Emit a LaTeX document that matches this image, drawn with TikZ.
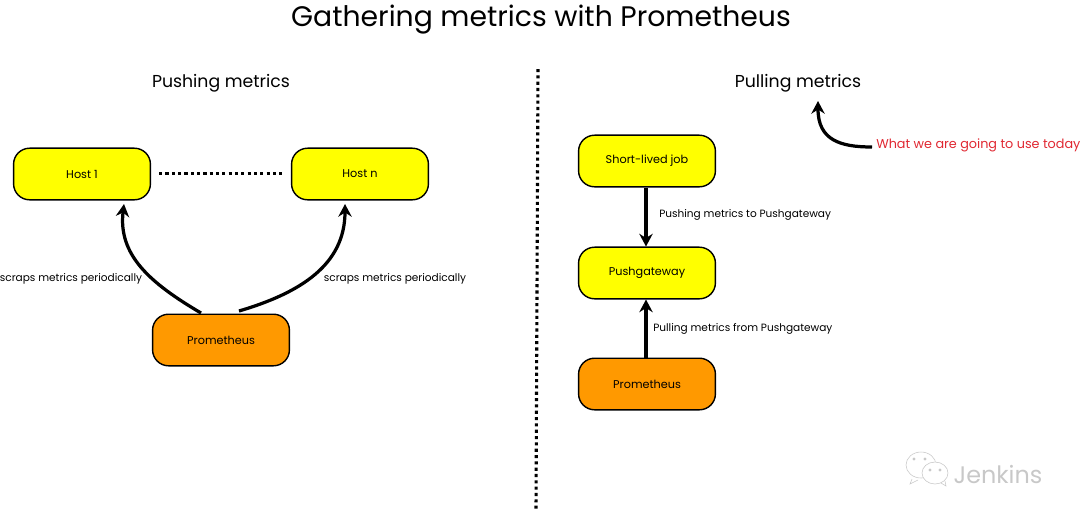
\documentclass[tikz,border=0pt]{standalone}
\usepackage{fontspec}
\setmainfont{Poppins}
\usetikzlibrary{arrows.meta}
\begin{document}
\begin{tikzpicture}[x=0.025cm,y=-0.025cm,
    hostbox/.style={draw=black,line width=1pt,rounded corners=0.4cm,minimum width=3.42cm,minimum height=1.29cm,fill=hostyellow,font=\fontsize{8}{10}\selectfont},
    promebox/.style={hostbox,fill=promeorange},
    bigarrow/.style={line width=2.3pt,-{Stealth[length=9pt,width=9.5pt]}},
    dotline/.style={line width=2.2pt,dash pattern=on 2.2pt off 2.3pt},
    smallnote/.style={font=\fontsize{7.5}{9}\selectfont,inner sep=0pt},
    heading/.style={font=\fontsize{12.3}{15}\selectfont,inner sep=0pt}]

% Colors
\definecolor{hostyellow}{RGB}{255,255,0}
\definecolor{promeorange}{RGB}{255,153,0}
\definecolor{todayred}{RGB}{224,40,50}
\definecolor{markgray}{RGB}{200,200,200}

% Page
\useasboundingbox (0,0) rectangle (1080,516);

% Titles
\node[font=\fontsize{20.1}{25}\selectfont,inner sep=0pt] (title) at (541,20) {Gathering metrics with Prometheus};
\node[heading] (pushing) at (221,83) {Pushing metrics};
\node[heading] (pulling) at (798,83) {Pulling metrics};

% Separator
\draw[dotline] (538,69) -- (536,510);

% Pushing side
\node[hostbox] (host1) at (82,174) {Host 1};
\node[hostbox] (hostn) at (360,174) {Host n};
\node[promebox] (prome1) at (221,340) {Prometheus};
\coordinate (p1a) at (201,313);
\coordinate (p1b) at (239,311);
\coordinate (h1a) at (124,204);
\coordinate (hna) at (345,204);
\draw[dotline] ([xshift=0.2cm,yshift=0.02cm]host1.east) -- ([xshift=-0.18cm,yshift=0.02cm]hostn.west);
\draw[bigarrow] (p1a) .. controls (150,283) and (118,255) .. (h1a);
\draw[bigarrow] (p1b) .. controls (300,293) and (345,265) .. (hna);
\node[smallnote] (scrap1) at (71,279) {scraps metrics periodically};
\node[smallnote] (scrap2) at (395,279) {scraps metrics periodically};

% Pulling side
\node[hostbox] (job) at (647,161) {Short-lived job};
\node[hostbox] (gateway) at (647,273) {Pushgateway};
\node[promebox] (prome2) at (647,384) {Prometheus};
\draw[bigarrow] ([xshift=-0.025cm]job.south) -- ([xshift=-0.025cm]gateway.north);
\draw[bigarrow] ([xshift=-0.025cm]prome2.north) -- ([xshift=-0.025cm]gateway.south);
\node[smallnote,anchor=west] (pushnote) at (659,215) {Pushing metrics to Pushgateway};
\node[smallnote,anchor=west] (pullnote) at (653,329) {Pulling metrics from Pushgateway};

% Today remark
\node[smallnote,text=todayred,font=\fontsize{9.1}{10}\selectfont,anchor=west] (today) at (876,145) {What we are going to use today};
\coordinate (todayend) at (818,101);
\draw[bigarrow] (today.west) ++(-4,2) .. controls (840,147) and (818,140) .. (todayend);

% Watermark
\node[text=markgray,font=\fontsize{17}{20}\selectfont,inner sep=0pt] (mark) at (998,474) {Jenkins};
\draw[markgray] (921,465) ellipse (15 and 13);
\draw[markgray] (912,479) -- (910,484) -- (918,480);
\draw[markgray,fill=white] (935,473) ellipse (13 and 11);
\draw[markgray] (941,483) -- (946,486) -- (945,481);
\foreach \x/\y in {914/459,925/459,930/470,940/470}
  \fill[markgray] (\x,\y) circle (1.6);
\end{tikzpicture}
\end{document}
